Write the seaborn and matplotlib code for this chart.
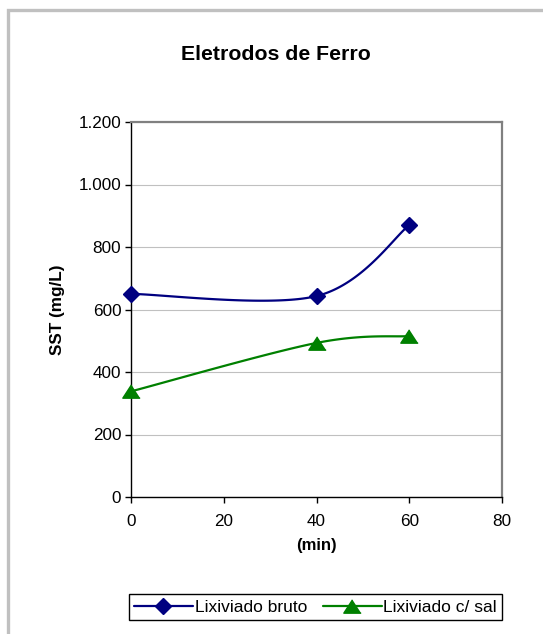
import numpy as np
import pandas as pd
import seaborn as sns
import matplotlib
matplotlib.use("Agg")
import matplotlib.pyplot as plt
from matplotlib.lines import Line2D
from matplotlib.patches import Rectangle
from matplotlib.ticker import FuncFormatter, MultipleLocator

# ---- data ----
tempo = [0, 40, 60]
bruto = [650, 643, 870]
com_sal = [338, 493, 515]
series_names = ["Lixiviado bruto", "Lixiviado c/ sal"]
title = "Eletrodos de Ferro"
xlabel = "(min)"
ylabel = "SST (mg/L)"

sns.set_theme(style="white")
plt.rcParams["font.family"] = ["Liberation Sans", "DejaVu Sans"]
plt.rcParams["text.color"] = "black"
plt.rcParams["axes.labelcolor"] = "black"
plt.rcParams["xtick.color"] = "black"
plt.rcParams["ytick.color"] = "black"


def smooth(xs, ys, n=60):
    """Excel-like smoothed line (Catmull-Rom Bezier through the points)."""
    P = np.column_stack([xs, ys]).astype(float)
    out = []
    for i in range(len(P) - 1):
        p0 = P[i - 1] if i > 0 else P[i]
        p1, p2 = P[i], P[i + 1]
        p3 = P[i + 2] if i + 2 < len(P) else P[i + 1]
        c1 = p1 + (p2 - p0) / 6.0
        c2 = p2 - (p3 - p1) / 6.0
        t = np.linspace(0, 1, n)[:, None]
        seg = ((1 - t) ** 3) * p1 + 3 * ((1 - t) ** 2) * t * c1 + 3 * (1 - t) * t ** 2 * c2 + t ** 3 * p2
        out.append(seg if i == 0 else seg[1:])
    c = np.vstack(out)
    return c[:, 0], c[:, 1]


W, H = 543, 634
fig = plt.figure(figsize=(W / 100, H / 100), dpi=100)
left, right, top, bottom = 131, 502, 122, 497
ax = fig.add_axes([left / W, (H - bottom) / H, (right - left) / W, (bottom - top) / H])

blue = "#000080"
green = "#008000"
tri = [(0, 1), (-1.3, -1), (1.3, -1)]

for ys, col, mk, ms in [(bruto, blue, "D", 8), (com_sal, green, tri, 12.5)]:
    sx, sy = smooth(tempo, ys)
    df = pd.DataFrame({"x": sx, "y": sy})
    sns.lineplot(data=df, x="x", y="y", ax=ax, color=col, linewidth=1.6, sort=False,
                 estimator=None, zorder=3)
    ax.plot(tempo, ys, linestyle="none", marker=mk, markersize=ms, color=col, zorder=4,
            clip_on=False)

ax.set_xlim(0, 80)
ax.set_ylim(0, 1200)
ax.xaxis.set_major_locator(MultipleLocator(20))
ax.yaxis.set_major_locator(MultipleLocator(200))
ax.yaxis.set_major_formatter(FuncFormatter(lambda v, p: f"{int(v):,}".replace(",", ".")))
ax.grid(axis="y", color="#c0c0c0", linewidth=0.8)
ax.set_axisbelow(True)

for s in ["left", "bottom"]:
    ax.spines[s].set_color("black")
    ax.spines[s].set_linewidth(1.0)
for s in ["top", "right"]:
    ax.spines[s].set_color("#808080")
    ax.spines[s].set_linewidth(1.6)

ax.tick_params(axis="both", direction="out", length=4, width=1, color="black",
               labelsize=12.3, labelcolor="black", pad=3, left=True, bottom=True)
ax.tick_params(axis="x", pad=8)

ax.set_xlabel(xlabel, fontsize=12, fontweight="bold", labelpad=7, color="black")
ax.set_ylabel(ylabel, fontsize=12.3, fontweight="bold", labelpad=10, color="black")
fig.text(276 / W, 1 - 55 / H, title, fontsize=15.3, fontweight="bold", ha="center",
         va="center", color="black")

handles = [
    Line2D([], [], color=blue, marker="D", markersize=8, linewidth=1.6),
    Line2D([], [], color=green, marker=tri, markersize=12.5, linewidth=1.6),
]
leg = fig.legend(handles, series_names, loc="center", ncol=2,
                 bbox_to_anchor=(315.5 / W, 1 - 607 / H), fontsize=12.5,
                 frameon=True, fancybox=False, edgecolor="black", framealpha=1,
                 handlelength=3.4, handletextpad=0.1, columnspacing=0.9,
                 borderpad=0.3, borderaxespad=0)
leg.get_frame().set_linewidth(1.0)
for t in leg.get_texts():
    t.set_color("black")

fig.patches.append(Rectangle((8 / W, -0.1), 1.2, 1 - 10 / H + 0.1, transform=fig.transFigure,
                             fill=False, edgecolor="#c0c0c0", linewidth=2.4, zorder=0))

fig.savefig("out.png", dpi=100)
